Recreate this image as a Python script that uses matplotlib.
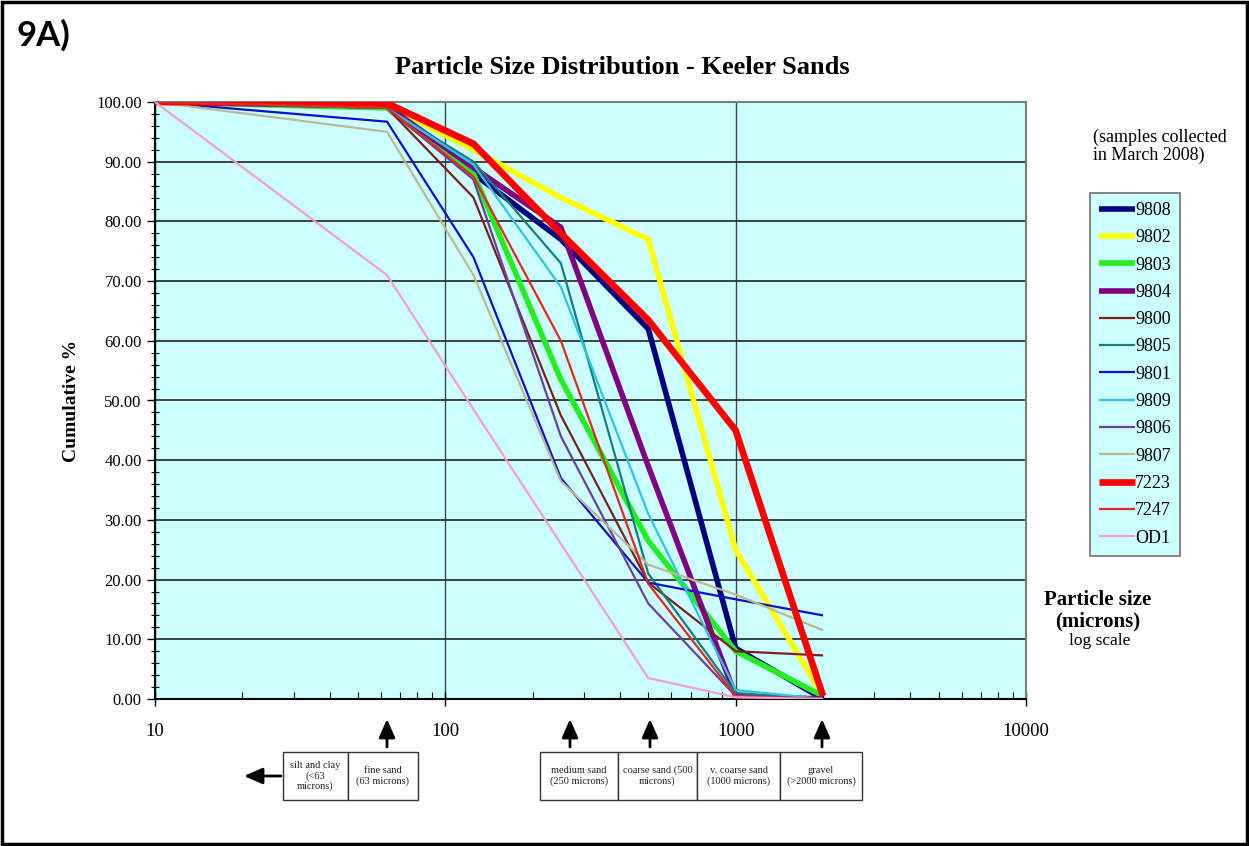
import matplotlib
matplotlib.use("Agg")
import matplotlib.pyplot as plt
from matplotlib.patches import Rectangle, FancyArrowPatch
from matplotlib.ticker import FixedLocator, NullFormatter, FuncFormatter, LogLocator

# ---------------- data ----------------
sizes = [10, 63, 125, 250, 500, 1000, 2000]
sample_names = ["9808", "9802", "9803", "9804", "9800", "9805", "9801",
                "9809", "9806", "9807", "7223", "7247", "OD1"]
s9808 = [100, 99.5, 88.0, 77.0, 62.0, 8.5, 0.0]
s9802 = [100, 99.5, 92.0, 84.0, 77.0, 25.0, 0.5]
s9803 = [100, 99.0, 88.0, 53.5, 26.5, 8.0, 0.5]
s9804 = [100, 99.3, 89.0, 79.0, 39.0, 0.5, 0.0]
s9800 = [100, 99.0, 84.0, 47.5, 19.5, 8.0, 7.3]
s9805 = [100, 99.0, 90.0, 73.0, 21.0, 1.0, 0.0]
s9801 = [100, 96.7, 74.0, 37.0, 19.5, 16.7, 14.0]
s9809 = [100, 99.0, 89.5, 69.0, 31.0, 1.5, 0.0]
s9806 = [100, 99.0, 87.0, 44.0, 16.0, 0.5, 0.0]
s9807 = [100, 95.0, 71.0, 36.5, 22.5, 17.5, 11.5]
s7223 = [100, 99.8, 93.0, 78.0, 63.5, 45.0, 0.5]
s7247 = [100, 99.0, 87.5, 60.0, 19.3, 0.5, 0.0]
sOD1 = [100, 71.0, 48.5, 26.0, 3.5, 0.3, 0.0]
series = [s9808, s9802, s9803, s9804, s9800, s9805, s9801,
          s9809, s9806, s9807, s7223, s7247, sOD1]

x_tick_values = [10, 100, 1000, 10000]
class_labels = ["silt and clay\n(<63\nmicrons)", "fine sand\n(63 microns)",
                "medium sand\n(250 microns)", "coarse sand (500\nmicrons)",
                "v. coarse sand\n(1000 microns)", "gravel\n(>2000 microns)"]

# ---------------- styles ----------------
colors = ["#000080", "#FFFF00", "#22EE22", "#800080", "#7B1E1E", "#0E8080",
          "#1010CC", "#2EC2E8", "#6A3FA0", "#BDB894", "#FF0000", "#E02A20", "#EFA0CC"]
widths = [4.0, 4.0, 4.0, 4.0, 1.6, 1.6, 1.6, 1.6, 1.6, 1.6, 4.8, 1.6, 1.6]

W, H = 1249, 846
fig = plt.figure(figsize=(W / 100, H / 100), dpi=100)
serif = "Liberation Serif"

def fx(px):
    return px / W

def fy(py):
    return 1 - py / H

ax = fig.add_axes([fx(155), fy(699), fx(1026) - fx(155), fy(102) - fy(699)])
ax.set_facecolor("#CCFFFF")

for vals, name, c, lw in zip(series, sample_names, colors, widths):
    ax.plot(sizes, vals, color=c, lw=lw, label=name, solid_joinstyle="miter",
            solid_capstyle="butt", zorder=3)

ax.set_xscale("log")
ax.set_xlim(10, 10000)
ax.set_ylim(0, 100)

ax.xaxis.set_major_locator(FixedLocator(x_tick_values))
ax.xaxis.set_major_formatter(FuncFormatter(lambda v, p: f"{int(v)}"))
ax.xaxis.set_minor_locator(LogLocator(base=10, subs=range(2, 10)))
ax.xaxis.set_minor_formatter(NullFormatter())
ax.yaxis.set_major_locator(FixedLocator(range(0, 101, 10)))
ax.yaxis.set_minor_locator(FixedLocator([v for v in range(0, 101, 2) if v % 10]))
ax.yaxis.set_major_formatter(FuncFormatter(lambda v, p: f"{v:.2f}"))

ax.grid(True, which="major", axis="y", color="#333333", lw=1.3, zorder=1)
ax.grid(True, which="major", axis="x", color="#444444", lw=1.0, zorder=1)
ax.set_axisbelow(True)

ax.tick_params(axis="both", which="major", width=1, color="black")
ax.tick_params(axis="x", which="major", direction="inout", length=10, pad=12)
ax.tick_params(axis="x", which="minor", direction="in", length=5, width=0.8)
ax.tick_params(axis="y", which="major", direction="out", length=6)
ax.tick_params(axis="y", which="minor", direction="inout", length=6, width=0.8)
for lab in ax.get_xticklabels():
    lab.set_fontfamily(serif)
    lab.set_fontsize(13.5)
for lab in ax.get_yticklabels():
    lab.set_fontfamily(serif)
    lab.set_fontsize(12)

for side in ["left", "bottom"]:
    ax.spines[side].set_color("black")
    ax.spines[side].set_linewidth(1.5)
for side in ["top", "right"]:
    ax.spines[side].set_color("#708080")
    ax.spines[side].set_linewidth(1.5)

ax.set_ylabel("Cumulative %", fontfamily=serif, fontweight="bold", fontsize=14, labelpad=12)

# legend
leg = ax.legend(loc="upper left", bbox_to_anchor=(fx(1090), fy(193)),
                bbox_transform=fig.transFigure, frameon=True, fancybox=False,
                facecolor="#CCFFFF", edgecolor="#707070", framealpha=1,
                prop={"family": serif, "size": 13}, handlelength=2.0,
                handletextpad=0.0, labelspacing=0.57, borderpad=0.5,
                borderaxespad=0)
leg.get_frame().set_linewidth(1.2)

# title and texts
fig.text(fx(622), fy(68), "Particle Size Distribution - Keeler Sands", ha="center", va="center",
         fontfamily=serif, fontweight="bold", fontsize=19)
fig.text(fx(16), fy(35), "9A)", ha="left", va="center", fontfamily="Lato",
         fontweight="bold", fontsize=25)
fig.text(fx(1093), fy(146), "(samples collected\nin March 2008)", ha="left", va="center",
         fontfamily=serif, fontsize=13, linespacing=1.05)
fig.text(fx(1098), fy(611), "Particle size\n(microns)", ha="center", va="center",
         fontfamily=serif, fontweight="bold", fontsize=15, linespacing=1.1)
fig.text(fx(1100), fy(641), "log scale", ha="center", va="center",
         fontfamily=serif, fontsize=12.5)

# outer frame
fig.patches.append(Rectangle((fx(2), fy(844)), fx(1245), 842 / H, transform=fig.transFigure,
                             fill=False, edgecolor="black", lw=2.5))

# class boxes
box_top, box_bot = 752, 800
box_edges = [(283, 348), (348, 418), (540, 618), (618, 697), (697, 780), (780, 862)]
for (x0, x1), lab in zip(box_edges, class_labels):
    fig.patches.append(Rectangle((fx(x0), fy(box_bot)), fx(x1) - fx(x0), (box_bot - box_top) / H,
                                 transform=fig.transFigure, fill=True, facecolor="white",
                                 edgecolor="#333333", lw=1.0))
    fig.text(fx((x0 + x1) / 2), fy((box_top + box_bot) / 2), lab, ha="center", va="center",
             fontfamily=serif, fontsize=7.5, linespacing=1.15, color="#222222")

# arrows
arrow_style = "-|>,head_length=0.8,head_width=0.35"
arrow_x_px = [387, 570, 650, 822]
for xp in arrow_x_px:
    fig.add_artist(FancyArrowPatch(
        (fx(xp), fy(747)), (fx(xp), fy(719)), transform=fig.transFigure,
        arrowstyle=arrow_style, mutation_scale=14, lw=2.0, color="black",
        shrinkA=0, shrinkB=0))
fig.add_artist(FancyArrowPatch(
    (fx(281), fy(776)), (fx(244), fy(776)), transform=fig.transFigure,
    arrowstyle=arrow_style, mutation_scale=14, lw=2.0, color="black",
    shrinkA=0, shrinkB=0))

fig.savefig("out.png", dpi=100)
